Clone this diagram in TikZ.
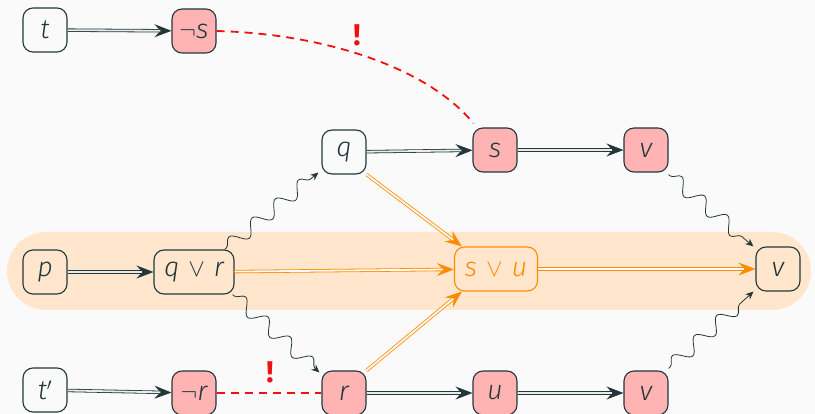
\documentclass[tikz,border=0pt]{standalone}
\usepackage{fontspec}
\setmainfont{Fira Sans Light}[ItalicFont={Fira Sans Light Italic}, BoldFont={Fira Sans Bold}]
\usetikzlibrary{arrows.meta,decorations.pathmorphing}
\definecolor{dk}{HTML}{23373B}
\definecolor{bgc}{HTML}{FAFAFA}
\definecolor{pinkf}{HTML}{FFB3B3}
\definecolor{org}{HTML}{FF8C00}
\definecolor{bandc}{HTML}{FFE6CC}
\definecolor{alarm}{HTML}{F01010}
\tikzset{
  var/.style={draw=dk, line width=1.1pt, rounded corners=10pt,
    minimum width=44pt, minimum height=44pt, inner sep=3pt,
    font=\fontsize{27}{29}\selectfont\itshape, text=dk},
  neg/.style={var, fill=pinkf},
  joint/.style={var, draw=org, text=org},
  head/.style={-{Stealth[length=17pt,width=13pt,inset=6pt]}},
  % single line with a filled head, then the doubled shaft laid over it
  imp/.style={draw=dk, line width=0.8pt, head,
    postaction={draw=dk, arrows=-, double=bgc!75!black!30, double distance=1.8pt,
      line width=0.8pt, shorten >=11pt}},
  oimp/.style={draw=org, line width=0.8pt, head,
    postaction={draw=org, arrows=-, double=bgc, double distance=1.8pt,
      line width=0.8pt, shorten >=11pt}},
  wavy/.style={draw=dk, line width=0.8pt, decorate,
    decoration={snake, amplitude=7pt, segment length=30pt, pre length=2pt, post length=5pt},
    -{Stealth[length=8pt,width=7pt]}},
  clash/.style={draw=alarm, line width=1.8pt, dash pattern=on 8pt off 6pt},
  bang/.style={text=alarm, font=\fontsize{30}{32}\selectfont\bfseries}
}
\begin{document}
\begin{tikzpicture}[x=1pt,y=-1pt]
  % canvas and highlighted band
  \fill[bgc] (0,0) rectangle (815,414);
  \useasboundingbox (0,0) rectangle (815,414);
  \fill[bandc, rounded corners=39pt] (7,232) rectangle (811,310);

  % top row
  \node[var] (t)  at (45,30)  {t};
  \node[neg] (ns) at (194,31) {$\neg$s};

  % middle rows
  \node[var] (q)  at (344,152) {q};
  \node[neg] (s)  at (495,150) {s};
  \node[neg] (v1) at (646,150) {v};

  \node[var] (p)  at (45,272)  {p};
  \node[var, minimum width=80pt] (qr) at (194,272) {q\,\,{\upshape$\vee$}\,\,r};
  \node[joint, minimum width=83pt] (su) at (496,269) {s\,\,{\upshape$\vee$}\,\,u};
  \node[var] (v)  at (778,269) {v};

  % bottom row
  \node[var] (tp) at (45,390)  {t$'$};
  \node[neg] (nr) at (194,393) {$\neg$r};
  \node[neg] (r)  at (344,393) {r};
  \node[neg] (u)  at (495,393) {u};
  \node[neg] (v2) at (646,393) {v};

  % implications
  \draw[imp] (t) -- (ns);
  \draw[imp] (q) -- (s);
  \draw[imp] (s) -- (v1);
  \draw[imp] (p) -- (qr);
  \draw[imp] (tp) -- (nr);
  \draw[imp] (r) -- (u);
  \draw[imp] (u) -- (v2);

  % derived implications
  \draw[oimp] (q.south east) -- ([xshift=8pt]su.north west);
  \draw[oimp] (qr) -- (su);
  \draw[oimp] (r.north east) -- ([xshift=8pt]su.south west);
  \draw[oimp] (su) -- (v);

  % case splits
  \draw[wavy] ([xshift=-10pt]qr.north east) -- ([xshift=-3pt,yshift=2pt]q.south west);
  \draw[wavy] ([xshift=-2pt]qr.south east) -- ([xshift=-2pt,yshift=-2pt]r.north west);
  \draw[wavy] ([yshift=-2pt]v1.south east) -- ([xshift=-2pt]v.north west);
  \draw[wavy] ([yshift=2pt]v2.north east) -- ([xshift=-2pt]v.south west);

  % contradictions
  \draw[clash] (ns.east) .. controls (330,34) and (430,70) .. ([xshift=1pt,yshift=4pt]s.north west);
  \node[bang] (b1) at (357,35) {!};
  \draw[clash] (nr) -- (r);
  \node[bang] (b2) at (270,372) {!};
\end{tikzpicture}
\end{document}
